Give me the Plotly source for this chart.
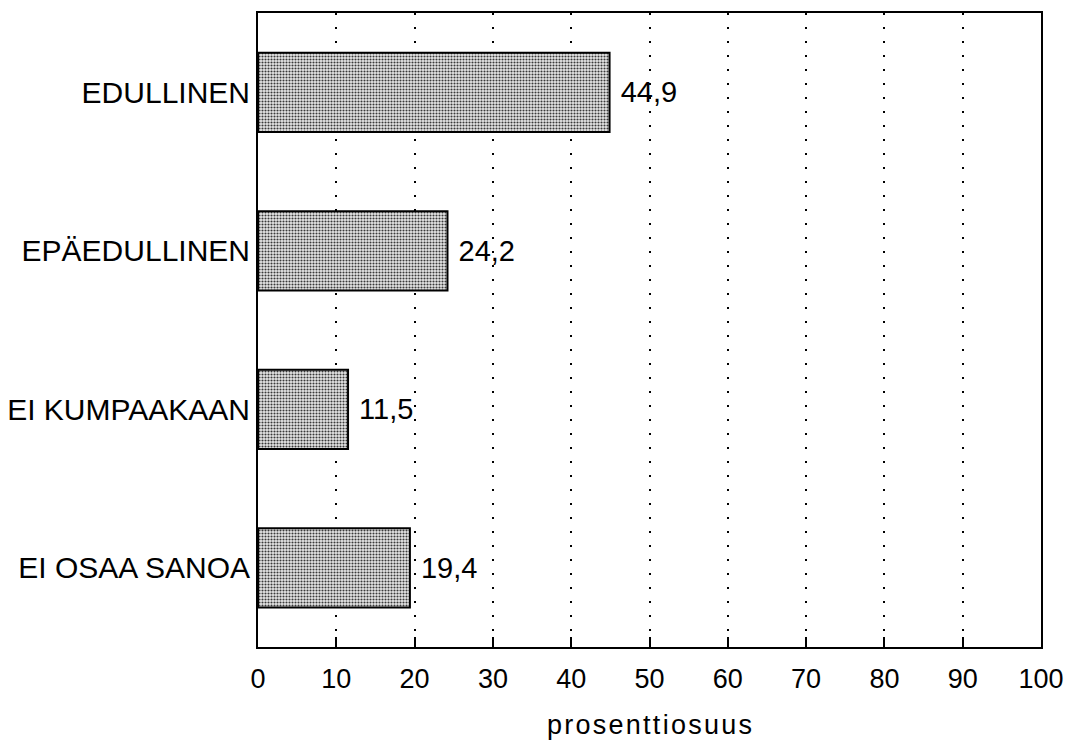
import plotly.graph_objects as go

categories = ["EDULLINEN", "EPÄEDULLINEN", "EI KUMPAAKAAN", "EI OSAA SANOA"]
values = [44.9, 24.2, 11.5, 19.4]
labels = ["44,9", "24,2", "11,5", "19,4"]
xticks = [0, 10, 20, 30, 40, 50, 60, 70, 80, 90, 100]
axis_title = "prosenttiosuus"

FONT = "Liberation Sans, Arial, Helvetica, sans-serif"
HAIR = "\u200a"

fig = go.Figure(go.Bar(
    y=categories, x=values, orientation="h",
    width=0.5,
    text=[" " + t for t in labels], textposition="outside",
    textfont=dict(family=FONT, size=29, color="black"),
    marker=dict(
        color="#d0d0d0",
        line=dict(color="black", width=2),
        pattern=dict(shape=".", size=3, solidity=0.4, fgcolor="#3a3a3a", bgcolor="#e8e8e8", fillmode="replace"),
    ),
    cliponaxis=False,
))

fig.update_layout(
    width=1069, height=740,
    margin=dict(l=258, r=28, t=13, b=93, autoexpand=False),
    plot_bgcolor="white", paper_bgcolor="white",
    showlegend=False,
    font=dict(family=FONT, color="black"),
)
fig.update_xaxes(
    range=[0, 100], tickvals=xticks, ticktext=[str(t) for t in xticks],
    showgrid=True, gridcolor="black", gridwidth=2, griddash="2px,12px",
    showline=True, linecolor="black", linewidth=2, mirror=True,
    ticks="inside", ticklen=10, tickwidth=2, tickcolor="black",
    tickfont=dict(size=27, family=FONT), zeroline=False, ticklabelstandoff=7,
    ticklabeloverflow="allow", automargin=False,
    title=dict(text=HAIR.join(axis_title), font=dict(size=27, family=FONT), standoff=29),
)
fig.update_yaxes(
    autorange="reversed", showgrid=False, showline=True, linecolor="black",
    linewidth=2, mirror=True, ticks="", tickfont=dict(size=30, family=FONT),
    ticklabelstandoff=0, automargin=False,
)

fig.write_html("out.html", config={"displayModeBar": False},
               post_script="document.body.style.margin='0';")
